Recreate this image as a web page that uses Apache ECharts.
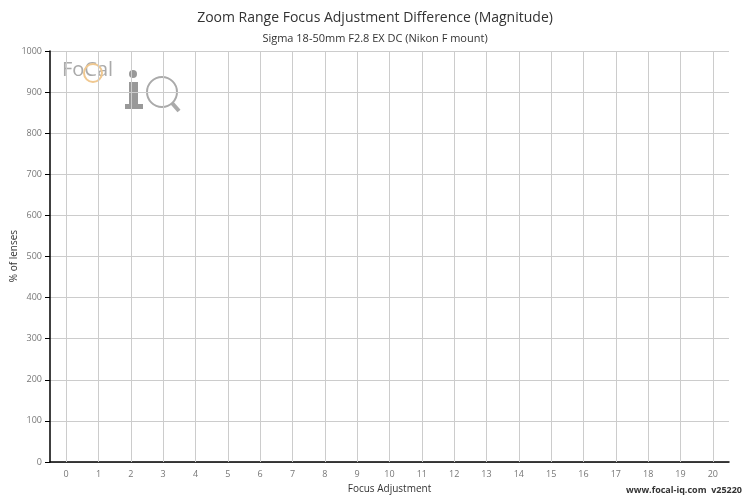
<!DOCTYPE html><html><head><meta charset="utf-8"><script src="https://cdn.jsdelivr.net/npm/echarts@6/dist/echarts.min.js"></script></head><body style="margin:0"><div id="c" style="width:750px;height:500px"></div><script>
const categories=['0','1','2','3','4','5','6','7','8','9','10','11','12','13','14','15','16','17','18','19','20'];
const values=[];
const yTicks=[0,100,200,300,400,500,600,700,800,900,1000];
const ch=echarts.init(document.getElementById('c'));
const f='"Open Sans", sans-serif';
ch.setOption({animation:false,
title:{text:'Zoom Range Focus Adjustment Difference (Magnitude)',subtext:'Sigma 18-50mm F2.8 EX DC (Nikon F mount)',left:'center',top:6,itemGap:8,textStyle:{fontFamily:f,fontSize:14,fontWeight:'normal',color:'#333'},subtextStyle:{fontFamily:f,fontSize:11,color:'#333'}},
grid:{left:50,right:21,top:51,bottom:38,containLabel:false,outerBoundsMode:'none'},
xAxis:{type:'category',data:categories,name:'Focus Adjustment',nameLocation:'middle',nameGap:22,nameTextStyle:{fontFamily:f,fontSize:10,color:'#333'},axisLine:{lineStyle:{color:'#000',width:1.5}},axisTick:{alignWithLabel:true,length:5,lineStyle:{color:'#000'}},axisLabel:{fontFamily:f,fontSize:9,color:'#777',margin:8},splitLine:{show:false}},
yAxis:{type:'value',min:0,max:1000,interval:100,axisLine:{show:true,lineStyle:{color:'#000',width:1.5}},axisTick:{show:true,length:5,lineStyle:{color:'#000'}},axisLabel:{fontFamily:f,fontSize:9,color:'#777',margin:8,formatter:v=>String(v)},splitLine:{lineStyle:{color:'#ccc'}}},
series:[{type:'bar',data:values,markLine:{silent:true,symbol:'none',label:{show:false},lineStyle:{color:'#ccc',type:'solid',width:1},data:categories.map(c=>({xAxis:c}))}}],
graphic:[
{type:'text',x:14,y:256,rotation:Math.PI/2,style:{text:'% of lenses',font:'10px "Open Sans"',fill:'#333',align:'center',verticalAlign:'middle'}},
{type:'text',left:62,top:60,style:{text:'FoCal',font:'20px "Open Sans"',fill:'#aaa'}},
{type:'circle',shape:{cx:93,cy:73,r:9},style:{fill:'none',stroke:'#f0c890',lineWidth:2}},
{type:'rect',shape:{x:129,y:82,width:9,height:26},style:{fill:'#999'}},
{type:'rect',shape:{x:125,y:104,width:18,height:5},style:{fill:'#999'}},
{type:'circle',shape:{cx:133,cy:74,r:4},style:{fill:'#999'}},
{type:'circle',shape:{cx:162,cy:92,r:15},style:{fill:'none',stroke:'#aaa',lineWidth:2}},
{type:'line',shape:{x1:172,y1:103,x2:179,y2:111},style:{stroke:'#aaa',lineWidth:4}},
{type:'text',right:8,bottom:5,style:{text:'www.focal-iq.com  v25220',font:'bold 9px "Open Sans"',fill:'#333'}}
]});
</script></body></html>
